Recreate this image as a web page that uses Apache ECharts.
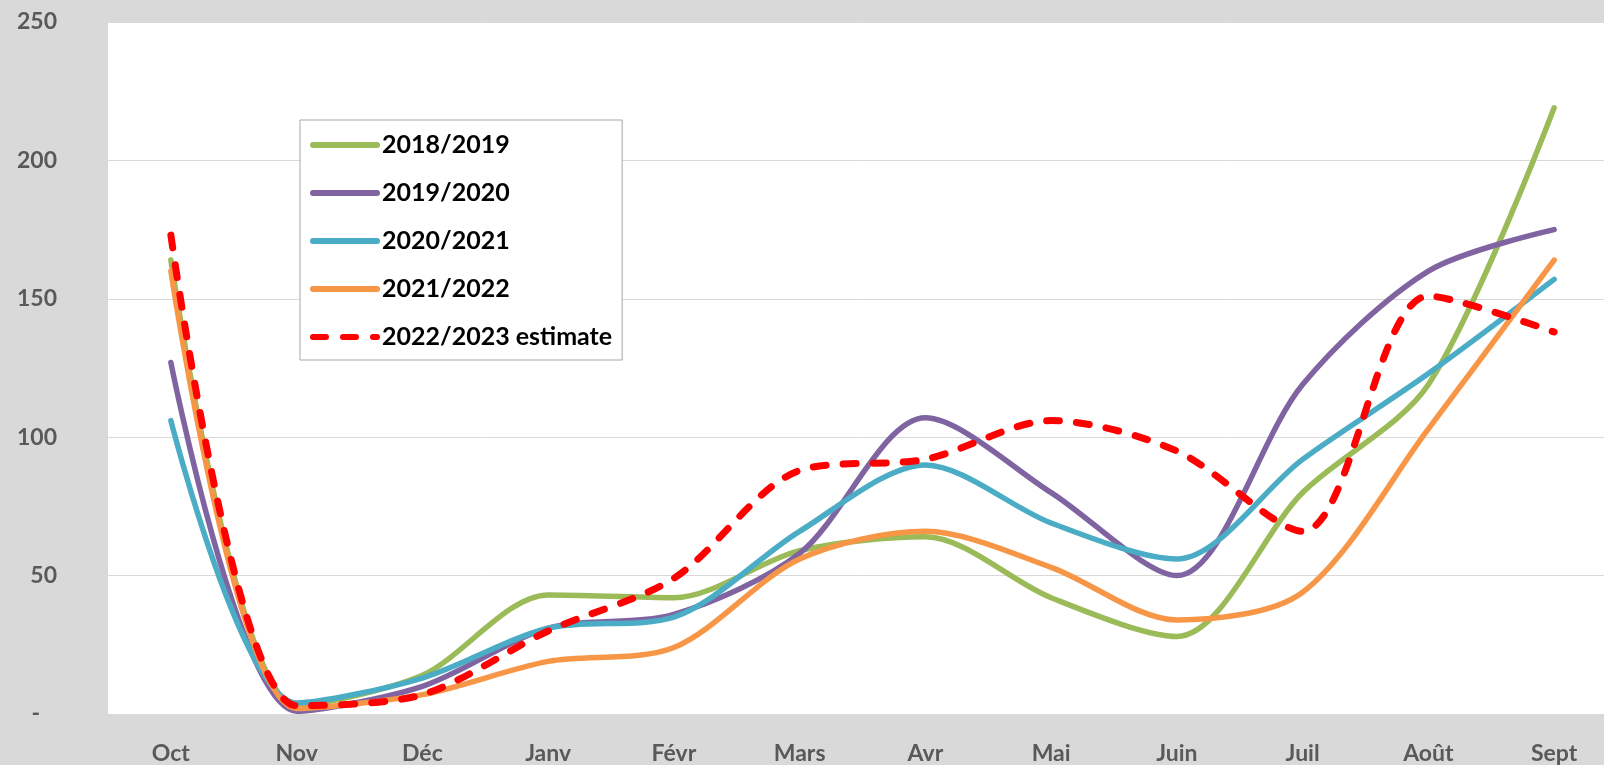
<!DOCTYPE html>
<html>
<head>
<meta charset="utf-8">
<script src="https://cdn.jsdelivr.net/npm/echarts@6/dist/echarts.min.js"></script>
<style>
  html, body { margin: 0; padding: 0; background: #d9d9d9; }
  #chart { width: 1604px; height: 765px; }
</style>
</head>
<body>
<div id="chart"></div>
<script>
  // months (Oct -> Sept)
  var months = ['Oct', 'Nov', 'Déc', 'Janv', 'Févr', 'Mars', 'Avr', 'Mai', 'Juin', 'Juil', 'Août', 'Sept'];

  var s2018 = [164, 3, 14, 43, 42, 59, 64, 42, 28, 80, 119, 219];
  var s2019 = [127, 1, 10, 31, 36, 58, 107, 80, 50, 119, 160, 175];
  var s2020 = [106, 4, 13, 31, 35, 66, 90, 69, 56, 92, 123, 157];
  var s2021 = [160, 2, 7, 19, 24, 56, 66, 53, 34, 44, 103, 164];
  var s2022 = [173, 3, 7, 30, 49, 88, 92, 106, 95, 66, 151, 138];

  var yTicks = [0, 50, 100, 150, 200, 250];

  var fontFam = 'Lato, "Open Sans", sans-serif';

  function line(name, data, color, dashed) {
    return {
      name: name,
      type: 'line',
      data: data,
      smooth: 0.3,
      symbol: 'none',
      lineStyle: {
        color: color,
        width: dashed ? 7 : 5.5,
        type: dashed ? [13, 17] : 'solid',
        cap: 'round'
      },
      itemStyle: { color: color }
    };
  }

  var chart = echarts.init(document.getElementById('chart'));
  chart.setOption({
    backgroundColor: '#d9d9d9',
    animation: false,
    grid: {
      show: true,
      backgroundColor: '#ffffff',
      borderWidth: 0,
      left: 108,
      top: 22,
      width: 1509,
      height: 692,
      outerBoundsMode: 'none'
    },
    legend: {
      orient: 'vertical',
      left: 300,
      top: 120,
      padding: [12, 10, 10, 10],
      backgroundColor: '#ffffff',
      borderColor: '#a6a6a6',
      borderWidth: 1,
      itemWidth: 64,
      itemHeight: 26,
      itemGap: 22,
      itemStyle: { opacity: 0 },
      lineStyle: { width: 6, cap: 'round' },
      textStyle: {
        color: '#000000',
        fontWeight: 'bold',
        fontSize: 25,
        fontFamily: fontFam,
        lineHeight: 26
      },
      data: ['2018/2019', '2019/2020', '2020/2021', '2021/2022', '2022/2023 estimate']
    },
    xAxis: {
      type: 'category',
      data: months,
      boundaryGap: true,
      axisLine: { lineStyle: { color: '#d9d9d9' } },
      axisTick: { show: false },
      axisLabel: {
        color: '#595959',
        fontWeight: 'bold',
        fontSize: 23,
        fontFamily: fontFam,
        margin: 28
      }
    },
    yAxis: {
      type: 'value',
      min: yTicks[0],
      max: yTicks[yTicks.length - 1],
      interval: 50,
      axisLine: { show: false },
      axisTick: { show: false },
      splitLine: { lineStyle: { color: '#d9d9d9', width: 1 } },
      axisLabel: {
        color: '#595959',
        fontWeight: 'bold',
        fontSize: 23,
        fontFamily: fontFam,
        margin: 51,
        formatter: function (v) {
          return v === 0 ? '{d|-}' : String(v);
        },
        rich: {
          d: {
            color: '#595959',
            fontWeight: 'bold',
            fontSize: 23,
            fontFamily: fontFam,
            padding: [0, 17, 0, 0]
          }
        }
      }
    },
    series: [
      line('2018/2019', s2018, '#9bbb59'),
      line('2019/2020', s2019, '#8064a2'),
      line('2020/2021', s2020, '#4bacc6'),
      line('2021/2022', s2021, '#f79646'),
      line('2022/2023 estimate', s2022, '#ff0000', true)
    ]
  });
</script>
</body>
</html>
